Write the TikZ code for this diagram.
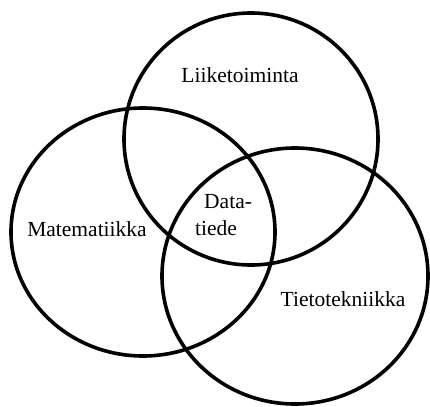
\documentclass[tikz,border=0pt]{standalone}
\usepackage{fontspec}
\setmainfont{Liberation Serif}
\usetikzlibrary{positioning}
\tikzset{
  ring/.style={draw=black,line width=3.6pt},
  field/.style={inner sep=0pt,font=\fontsize{21.5}{27}\selectfont,anchor=base},
}

\begin{document}
\begin{tikzpicture}[x=1pt,y=-1pt]
  \useasboundingbox (0,0) rectangle (430,406);
  % --- the three fields
  \draw[ring] (251,139) ellipse [x radius=127,y radius=126];
  \draw[ring] (143,232) ellipse [x radius=132,y radius=124];
  \draw[ring] (295,276) ellipse [x radius=133,y radius=128];
  % --- labels
  \node[field] (busi) at (240,83) {Liiketoiminta};
  \node[field] (math) at (87,236) {Matematiikka};
  \node[field] (comp) at (343,306) {Tietotekniikka};
  \node[field,anchor=base west] (dsa) at (204,208) {Data-};
  \node[field,anchor=base west] (dsb) at (195,235) {tiede};
\end{tikzpicture}
\end{document}
